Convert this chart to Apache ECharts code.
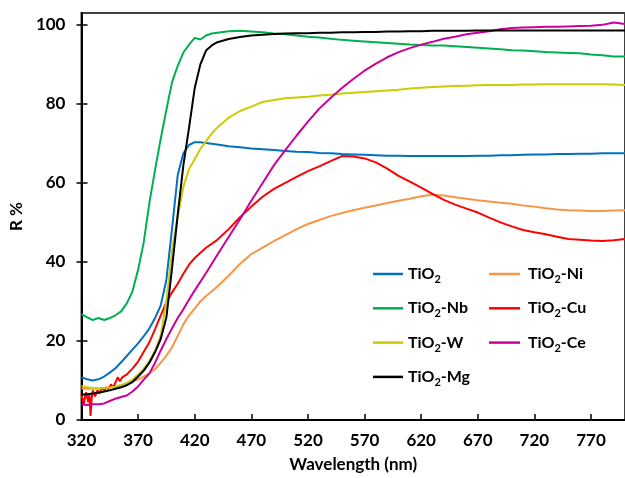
<!DOCTYPE html>
<html><head><meta charset="utf-8">
<script src="https://cdn.jsdelivr.net/npm/echarts@6/dist/echarts.min.js"></script>
<style>html,body{margin:0;padding:0;background:#fff}#c{width:625px;height:478px}</style>
</head><body><div id="c"></div>
<script>
const wl = [320,325,330,335,340,345,350,355,360,365,370,375,380,385,390,395,400,405,410,415,420,425,430,435,440,450,460,470,480,490,500,510,520,530,540,550,560,570,580,590,600,610,620,630,640,650,660,670,680,690,700,710,720,730,740,750,760,770,780,790,800];
const tio2 = [10.8,10.3,10.0,10.3,11.0,12.0,13.1,14.6,16.2,17.8,19.4,21.2,23.2,25.8,29.0,35.5,48.5,62.0,67.5,69.6,70.3,70.3,70.1,69.9,69.7,69.3,69.0,68.7,68.5,68.3,68.1,67.9,67.8,67.6,67.5,67.3,67.2,67.1,67.0,66.9,66.9,66.8,66.8,66.8,66.8,66.8,66.8,66.9,66.9,67.0,67.0,67.1,67.2,67.2,67.3,67.3,67.4,67.4,67.5,67.5,67.5];
const tio2Nb = [26.8,26.0,25.3,25.8,25.3,25.8,26.5,27.5,29.5,32.5,38.0,45.0,55.0,63.3,71.2,78.5,85.5,89.6,93.0,95.0,96.7,96.3,97.3,97.8,98.0,98.4,98.5,98.3,98.1,97.8,97.6,97.3,97.0,96.8,96.5,96.2,96.0,95.8,95.6,95.4,95.2,95.0,94.9,94.8,94.8,94.6,94.4,94.2,94.0,93.8,93.6,93.5,93.3,93.1,93.0,92.9,92.8,92.5,92.3,92.0,92.0];
const tio2W = [8.6,8.3,8.1,8.0,8.1,8.2,8.4,8.8,9.4,10.2,11.5,13.0,15.0,17.5,21.5,30.0,43.0,51.5,59.0,63.5,66.0,68.6,70.5,72.5,74.0,76.5,78.2,79.3,80.5,81.0,81.4,81.6,81.8,82.1,82.3,82.6,82.8,83.0,83.2,83.4,83.6,83.9,84.1,84.3,84.4,84.5,84.6,84.7,84.8,84.8,84.8,84.9,84.9,85.0,85.0,85.0,85.0,85.0,85.0,84.9,84.8];
const tio2Mg = [6.4,6.5,6.7,6.9,7.2,7.5,7.9,8.3,8.8,9.6,11.0,12.5,14.5,17.2,20.5,26.0,38.5,52.0,64.5,74.0,84.0,90.0,93.5,94.8,95.6,96.4,96.9,97.3,97.5,97.7,97.8,97.9,97.9,98.0,98.0,98.1,98.1,98.2,98.2,98.3,98.3,98.4,98.4,98.5,98.5,98.5,98.5,98.6,98.6,98.6,98.6,98.6,98.6,98.6,98.6,98.6,98.6,98.6,98.6,98.6,98.6];
const tio2Ni = [8.0,7.9,7.9,8.0,8.0,8.2,8.5,8.8,9.2,9.7,10.3,11.0,11.8,12.9,14.5,16.3,18.4,21.3,24.2,26.5,28.2,30.0,31.4,32.5,33.8,36.5,39.5,42.0,43.6,45.3,46.8,48.3,49.6,50.6,51.6,52.4,53.1,53.7,54.3,54.9,55.5,56.0,56.6,57.0,56.8,56.4,56.0,55.6,55.3,55.0,54.7,54.3,54.0,53.6,53.3,53.1,53.0,52.9,52.9,53.0,53.1];
const tio2Ce = [3.9,3.8,4.0,4.0,4.2,4.8,5.4,5.8,6.2,7.2,8.5,10.2,11.8,14.5,17.6,20.5,23.2,25.8,28.0,30.5,32.8,35.0,37.2,39.5,41.8,46.3,50.8,55.5,60.0,64.5,68.3,72.0,75.5,78.8,81.5,84.0,86.3,88.4,90.2,91.8,93.1,94.1,95.0,95.7,96.5,97.0,97.6,98.0,98.4,98.9,99.2,99.3,99.4,99.5,99.5,99.6,99.7,99.8,100.0,100.6,100.2];
const wlCu = [320,322,324,326,327,328,329,330,332,334,336,338,340,342,344,346,348,350,352,354,356,358,360,365,370,375,380,385,390,395,400,405,410,415,420,430,440,450,460,470,480,490,500,510,520,530,540,550,560,570,580,590,600,610,620,630,640,650,660,670,680,690,700,710,720,730,740,750,760,770,780,790,800];
const tio2Cu = [6.5,4.0,7.0,4.5,6.5,1.0,5.5,7.5,6.0,7.5,6.8,8.2,7.5,8.3,7.8,9.0,8.2,9.5,10.8,9.8,10.8,11.2,11.5,13.0,14.8,17.3,19.7,23.0,26.5,29.8,32.3,34.5,37.0,39.3,41.0,43.6,45.6,48.3,51.3,54.0,56.5,58.5,60.0,61.5,63.0,64.2,65.5,66.8,66.7,66.2,65.2,63.6,61.8,60.3,58.8,57.2,55.7,54.5,53.5,52.5,51.2,50.0,49.0,48.1,47.5,47.0,46.4,45.8,45.6,45.4,45.3,45.5,45.8];
const xTicks = [320,370,420,470,520,570,620,670,720,770];
const yTicks = [0,20,40,60,80,100];

const seriesDefs = [
  {name:'TiO2', x:wl, y:tio2, color:'#0070C0'},
  {name:'TiO2-Ni', x:wl, y:tio2Ni, color:'#F79646'},
  {name:'TiO2-Nb', x:wl, y:tio2Nb, color:'#00B050'},
  {name:'TiO2-Cu', x:wlCu, y:tio2Cu, color:'#FF0000'},
  {name:'TiO2-W', x:wl, y:tio2W, color:'#CCCC00'},
  {name:'TiO2-Ce', x:wl, y:tio2Ce, color:'#CC0099'},
  {name:'TiO2-Mg', x:wl, y:tio2Mg, color:'#000000'}
];
const FONT = 'Lato';
const lab = {fontFamily:FONT, fontWeight:'bold', fontSize:17, color:'#000'};
const legendText = {
  fontFamily:FONT, fontWeight:'bold', fontSize:16, color:'#000', lineHeight:22,
  rich:{ s:{fontFamily:FONT, fontWeight:'bold', fontSize:11, color:'#000', lineHeight:11, verticalAlign:'bottom'} }
};
const fmt = n => n.replace('TiO2','TiO{s|2}');
const chart = echarts.init(document.getElementById('c'), null, {renderer:'canvas'});
chart.setOption({
  animation:false,
  backgroundColor:'#fff',
  grid:{left:65, right:-2, top:13, bottom:58, show:true, borderColor:'#404040', borderWidth:2},
  legend:[
    {data:['TiO2','TiO2-Nb','TiO2-W','TiO2-Mg'], orient:'vertical', left:368, top:258, itemWidth:30, itemHeight:2.5, itemGap:12.3, icon:'rect', textStyle:legendText, formatter:fmt, selectedMode:false},
    {data:['TiO2-Ni','TiO2-Cu','TiO2-Ce'], orient:'vertical', left:484, top:258, itemWidth:31, itemHeight:2.5, itemGap:12.3, icon:'rect', textStyle:Object.assign({}, legendText, {padding:[0,0,0,3]}), formatter:fmt, selectedMode:false}
  ],
  xAxis:{type:'value', min:320, max:800, interval:50,
    name:'Wavelength (nm)', nameLocation:'middle', nameGap:36, nameTextStyle:lab,
    axisLine:{lineStyle:{color:'#000', width:2}},
    axisTick:{inside:true, length:6, lineStyle:{color:'#000', width:1.5}, customValues:xTicks},
    axisLabel:Object.assign({margin:12, customValues:xTicks}, lab),
    splitLine:{show:false}},
  yAxis:[
    {type:'value', min:0, max:103, interval:20,
     name:'R %', nameLocation:'middle', nameGap:38, nameTextStyle:lab,
     axisLine:{show:true, lineStyle:{color:'#000', width:2}},
     axisTick:{show:true, inside:true, length:6, lineStyle:{color:'#000', width:1.5}, customValues:yTicks},
     axisLabel:Object.assign({margin:16, customValues:yTicks}, lab),
     splitLine:{show:false}},
    {type:'value', min:0, max:103, interval:20, position:'left',
     axisLine:{show:false}, axisLabel:{show:false},
     axisTick:{show:true, inside:false, length:5, lineStyle:{color:'#000', width:1.5}, customValues:yTicks},
     splitLine:{show:false}}
  ],
  series: seriesDefs.map(s => ({
    name:s.name, type:'line', yAxisIndex:0, symbol:'none', smooth:false,
    color:s.color, lineStyle:{color:s.color, width:2},
    data:s.x.map((v,i)=>[v, s.y[i]])
  }))
});
</script></body></html>
